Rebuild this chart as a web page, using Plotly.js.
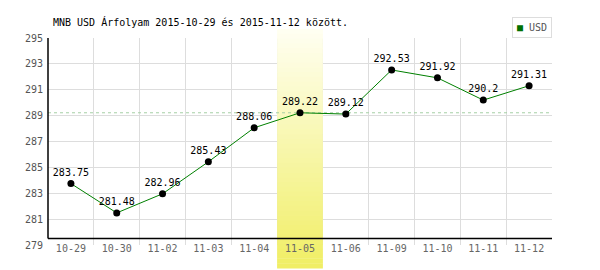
<!DOCTYPE html>
<html>
<head>
<meta charset="utf-8">
<script src="https://cdn.plot.ly/plotly-3.0.1.min.js"></script>
<style>html,body{margin:0;padding:0;background:#fff;}#chart{width:600px;height:270px;}</style>
</head>
<body>
<div id="chart"></div>
<script>
var dates = ['10-29','10-30','11-02','11-03','11-04','11-05','11-06','11-09','11-10','11-11','11-12'];
var values = [283.75, 281.48, 282.96, 285.43, 288.06, 289.22, 289.12, 292.53, 291.92, 290.2, 291.31];
var yTicks = [279, 281, 283, 285, 287, 289, 291, 293, 295];
var seriesName = 'USD';
var highlightDate = '11-05';
var titleText = 'MNB USD Árfolyam 2015-10-29 és 2015-11-12 között.';

(function(){
var FONT = 'DejaVu Sans Mono, Liberation Mono, monospace';
var hi = dates.indexOf(highlightDate);
var yMin = yTicks[0], yMax = yTicks[yTicks.length - 1];

var trace = {
  x: dates, y: values, type: 'scatter', mode: 'lines+markers+text',
  text: values.map(function(v){ return String(v); }),
  textposition: 'top center',
  textfont: {family: FONT, size: 10, color: '#000'},
  line: {color: '#008000', width: 1},
  marker: {color: '#000', size: 7},
  cliponaxis: false,
  showlegend: false, hoverinfo: 'none'
};

var shapes = [];
// highlight gradient column (bands), paper range pTop..pBot
var N = 50, pTop = 1.0435, pBot = -0.111;
var c0 = [255, 255, 242], c1 = [240, 238, 100];
function pToY(p){ return yMin + (yMax - yMin) * p; }
for (var i = 0; i < N; i++) {
  var t = (i + 0.5) / N;
  var c = c0.map(function(a, k){ return Math.round(a + (c1[k] - a) * t); });
  var p1 = pTop - (pTop - pBot) * i / N, p0 = pTop - (pTop - pBot) * (i + 1) / N - 0.002;
  var col = 'rgb(' + c.join(',') + ')';
  shapes.push({type: 'rect', layer: 'below', xref: 'x', yref: 'paper',
    x0: hi - 0.5, x1: hi + 0.5, y0: p0, y1: p1, fillcolor: col, line: {width: 0}});
  var q0 = Math.max(p0, 0), q1 = Math.min(p1, 1);
  if (q1 > q0) {
    shapes.push({type: 'rect', layer: 'between', xref: 'x', yref: 'y',
      x0: hi - 0.5, x1: hi + 0.5, y0: pToY(q0), y1: pToY(q1), fillcolor: col, line: {width: 0}});
  }
}
// dashed reference line at highlighted value
shapes.push({type: 'line', layer: 'between', xref: 'x', yref: 'y', x0: -0.5, x1: dates.length - 0.5,
  y0: values[hi], y1: values[hi], line: {color: '#a6cfa6', width: 1, dash: '3px,3px'}});
// black axis lines
shapes.push({type: 'line', layer: 'above', xref: 'paper', yref: 'y', x0: 0, x1: 1,
  y0: 279.5, y1: 279.5, line: {color: '#000', width: 1.5}});
shapes.push({type: 'line', layer: 'above', xref: 'paper', yref: 'y', x0: 0, x1: 0,
  y0: 279.5, y1: yMax, line: {color: '#000', width: 1.5}});

var layout = {
  width: 600, height: 270,
  margin: {l: 48, r: 48, t: 38, b: 25},
  paper_bgcolor: '#fff', plot_bgcolor: '#fff',
  showlegend: false,
  title: {text: titleText, font: {family: FONT, size: 10, color: '#000'},
    xref: 'container', yref: 'container', x: 53/600, xanchor: 'left', y: 1 - 22/270, yanchor: 'middle'},
  xaxis: {type: 'category', range: [-0.5, dates.length - 0.5], tickson: 'boundaries',
    showgrid: true, gridcolor: '#dddddd', gridwidth: 1, showline: false, zeroline: false,
    ticks: '', ticklabelstandoff: -4, tickfont: {family: FONT, size: 10, color: '#666'}, fixedrange: true},
  yaxis: {range: [yMin, yMax], tickvals: yTicks, ticktext: yTicks.map(String),
    showgrid: true, gridcolor: '#dddddd', gridwidth: 1, showline: false, zeroline: false,
    ticks: '', ticklabelstandoff: 4, tickfont: {family: FONT, size: 10, color: '#555'}, fixedrange: true},
  shapes: shapes,
  annotations: [{
    xref: 'paper', yref: 'paper', x: 1, y: 1, xanchor: 'right', yanchor: 'bottom',
    text: '<span style="color:#007000">■</span><span style="color:#555"> ' + seriesName + '</span>',
    showarrow: false, bordercolor: '#dddddd', borderwidth: 1, borderpad: 4, bgcolor: '#fff',
    font: {family: FONT, size: 10, color: '#555'}
  }]
};

Plotly.newPlot('chart', [trace], layout, {displayModeBar: false, staticPlot: true});
})();
</script>
</body>
</html>
